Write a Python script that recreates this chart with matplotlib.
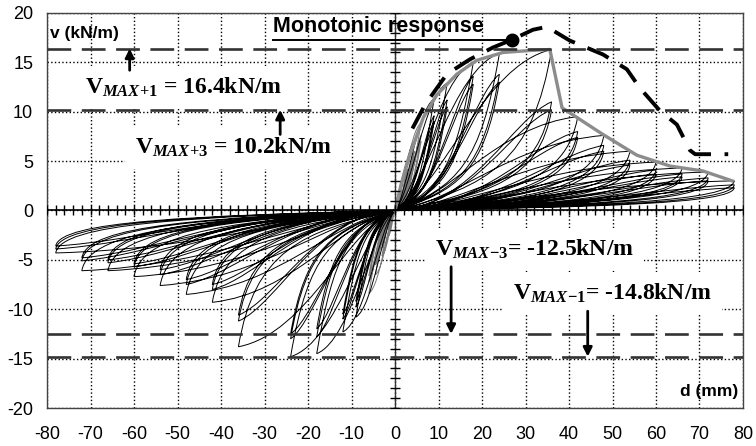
import matplotlib.pyplot as plt
import numpy as np
from matplotlib.patches import PathPatch
from matplotlib.path import Path

plt.rcParams["axes.unicode_minus"] = False
plt.rcParams["mathtext.fontset"] = "custom"
plt.rcParams["mathtext.rm"] = "Liberation Serif:bold"
plt.rcParams["mathtext.it"] = "Liberation Serif:italic:bold"
plt.rcParams["mathtext.bf"] = "Liberation Serif:bold"

# cyclic protocol: amplitude levels (mm), three cycles per level
AMP_POS = [1.5, 3, 4.5, 6, 9, 12, 18, 24, 36, 42, 48, 54, 60, 66, 72, 78]
AMP_NEG = [-1.5, -3, -4.5, -6, -9, -12, -18, -24, -36, -42, -48, -54, -60, -66, -72, -78]
# peak shear (kN/m) reached in cycle 1, 2, 3 of each level
V_POS_1 = [2.8, 5.1, 7.0, 8.9, 11.3, 12.9, 15.0, 15.9, 16.3, 9.5, 7.6, 6.0, 4.9, 4.3, 3.9, 3.0]
V_POS_2 = [2.2, 4.2, 6.0, 7.6, 9.6, 11.2, 13.6, 13.8, 11.0, 8.0, 6.6, 5.1, 4.1, 3.7, 3.3, 2.6]
V_POS_3 = [2.0, 3.8, 5.5, 7.0, 9.0, 10.5, 12.8, 13.0, 10.2, 7.4, 6.0, 4.6, 3.7, 3.4, 3.0, 2.3]
V_NEG_1 = [-2.6, -4.6, -6.5, -8.4, -10.8, -12.3, -14.5, -14.8, -13.8, -9.3, -8.5, -7.6, -6.7, -6.1, -6.1, -4.3]
V_NEG_2 = [-2.1, -3.8, -5.5, -7.2, -9.8, -11.0, -12.8, -13.0, -11.2, -8.0, -7.5, -6.5, -5.7, -5.3, -5.1, -3.9]
V_NEG_3 = [-1.9, -3.5, -5.0, -6.6, -9.2, -10.5, -12.0, -12.5, -10.6, -7.5, -7.0, -6.0, -5.4, -5.0, -4.8, -3.6]

# positive envelope (gray)
ENV_D = [0, 1.5, 3.4, 6.5, 9.6, 14.2, 18.8, 24.8, 31, 35.6, 38.4, 47.8, 55.6, 63.2, 70.8, 77.5]
ENV_V = [0, 2.8, 5.6, 9.4, 11.7, 13.8, 15.2, 16.0, 16.2, 16.3, 10.4, 7.7, 5.6, 4.5, 4.0, 3.0]

# monotonic response
MONO_D = [4, 6.9, 11.9, 17.2, 22.5, 26.9, 31.7, 34.9, 40.2, 47.8, 53.3, 56.3, 60.9, 64.8, 67.8, 69.0, 76.6]
MONO_V = [8.3, 10.7, 13.8, 15.3, 16.5, 17.3, 18.3, 18.6, 17.2, 15.8, 14.3, 12.4, 10.1, 8.7, 6.1, 5.7, 5.7]
MONO_MARK = (26.9, 17.3)

V_MAX = [16.4, 10.2, -12.5, -14.8]
V_NAMES = ["+1", "+3", "-3", "-1"]
V_SEP = [" = ", " = ", "= ", "= "]

K_UNLOAD = 2.6  # unloading stiffness (kN/m per mm)


def half_loop(d, v, k):
    # loading branch to the peak, then unloading back to the origin
    if k == 0:
        a1, b1, a2, b2 = 0.30, 0.12, 0.55, 0.90
    else:
        a1, b1, a2, b2 = 0.50, 0.04, 0.75, 0.85
    return [(a1 * d, b1 * v), (a2 * d, b2 * v), (d, v),
            (d - 0.7 * v / K_UNLOAD, 0.3 * v), (0.6 * d, 0.15 * v), (0, 0)]


def loop_path(levels):
    verts, codes = [], []
    for i in levels:
        for k, (vp, vn) in enumerate([(V_POS_1[i], V_NEG_1[i]),
                                      (V_POS_2[i], V_NEG_2[i]),
                                      (V_POS_3[i], V_NEG_3[i])]):
            verts += [(0, 0)] + half_loop(AMP_POS[i], vp, k) + half_loop(AMP_NEG[i], vn, k)
            codes += [Path.MOVETO] + [Path.CURVE4] * 12
    return Path(verts, codes)


fig = plt.figure(figsize=(7.56, 4.46), dpi=100)
ax = fig.add_axes([0.0622, 0.0852, 0.9206, 0.8857])

small = [i for i, a in enumerate(AMP_POS) if a <= 6]
large = [i for i, a in enumerate(AMP_POS) if a > 6]
ax.add_patch(PathPatch(loop_path(small), fill=False, ec="#7a7a7a", lw=0.7, zorder=2))
ax.add_patch(PathPatch(loop_path(large), fill=False, ec="black", lw=0.7, zorder=2))

ax.plot(ENV_D, ENV_V, color="#8c8c8c", lw=2.4, zorder=3)

ax.plot(MONO_D, MONO_V, color="black", lw=2.8, ls=(0, (6, 3.5)),
        dash_capstyle="butt", zorder=4)
ax.plot(*MONO_MARK, "o", color="black", ms=9, zorder=5)
ax.plot([-28, MONO_MARK[0]], [MONO_MARK[1]] * 2, color="black", lw=1.4, zorder=4)
ax.text(-28, 18.1, "Monotonic response", family="Liberation Sans",
        weight="bold", fontsize=15.5, va="baseline", ha="left", zorder=4)

for val in V_MAX:
    ax.axhline(val, color="#333333", lw=1.9, ls=(0, (9, 4)), zorder=4)

# peak-line labels: text x, text y, arrow x, arrow tail y
label_pos = [(-71.3, 12.5, -61, 14.2), (-59.8, 6.4, -26.4, 7.7),
             (9.2, -3.9, 12.9, -5.7), (27.1, -8.4, 44.3, -10.2)]
for val, name, sep, (tx, ty, axx, ay) in zip(V_MAX, V_NAMES, V_SEP, label_pos):
    txt = r"$\mathbf{V}_{\mathit{MAX}\mathbf{" + name + r"}}$" + sep + f"{val:.1f}kN/m"
    ax.text(tx, ty, txt, family="Liberation Serif", weight="bold", fontsize=17,
            va="center", ha="left", zorder=1,
            bbox=dict(fc="white", ec="none", pad=7))
    ax.annotate("", xy=(axx, val), xytext=(axx, ay),
                arrowprops=dict(arrowstyle="-|>", color="black", lw=2,
                                mutation_scale=13, shrinkA=0, shrinkB=0),
                zorder=5)

# axes through the origin with small cross ticks
ax.axhline(0, color="black", lw=1.2, zorder=3)
ax.axvline(0, color="#333333", lw=1.0, zorder=3)
xt = np.arange(-80, 81, 2)
ax.plot(xt, np.zeros_like(xt), "|", color="black", ms=7, mew=1, zorder=3)
yt = np.arange(-20, 21, 1)
ax.plot(np.zeros_like(yt), yt, "_", color="black", ms=7, mew=1, zorder=3)

ax.text(-79.3, 17.9, "v (kN/m)", family="Liberation Sans", weight="bold",
        fontsize=12.5, va="center", ha="left", zorder=4)
ax.text(78.9, -18.3, "d (mm)", family="Liberation Sans", weight="bold",
        fontsize=12.5, va="center", ha="right", zorder=4)

ax.set_xlim(-80, 80)
ax.set_ylim(-20, 20)
ax.set_xticks(np.arange(-80, 81, 10))
ax.set_yticks(np.arange(-20, 21, 5))
ax.set_axisbelow(True)
ax.grid(True, ls=":", color="black", lw=1.0)
ax.tick_params(length=0, labelsize=13)
ax.tick_params(axis="x", pad=13)
ax.tick_params(axis="y", pad=10)
for lab in ax.get_xticklabels() + ax.get_yticklabels():
    lab.set_family("Liberation Sans")
for sp in ax.spines.values():
    sp.set_color("#444444")
    sp.set_linewidth(1.0)

fig.savefig("out.png", dpi=100)
